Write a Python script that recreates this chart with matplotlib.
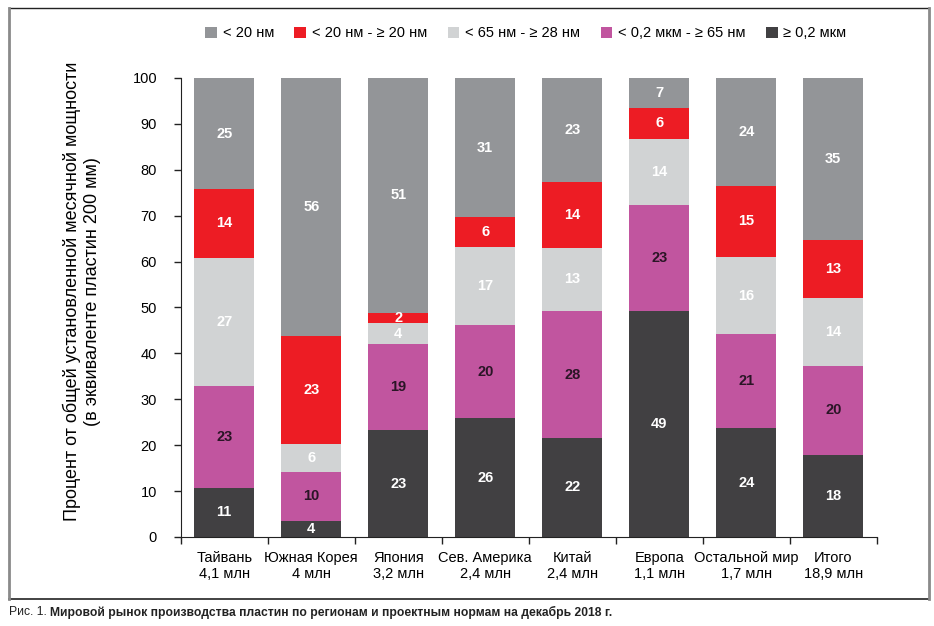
import numpy as np
import matplotlib.pyplot as plt
from matplotlib.lines import Line2D
from matplotlib.patches import Patch

# regions (two-line tick labels)
regions = ['Тайвань\n4,1 млн', 'Южная Корея\n4 млн', 'Япония\n3,2 млн', 'Сев. Америка\n2,4 млн',
           'Китай\n2,4 млн', 'Европа\n1,1 млн', 'Остальной мир\n1,7 млн', 'Итого\n18,9 млн']

series_names = ['≥ 0,2 мкм', '< 0,2 мкм - ≥ 65 нм', '< 65 нм - ≥ 28 нм', '< 20 нм - ≥ 20 нм', '< 20 нм']
colors = ['#414042', '#c1559f', '#d1d3d4', '#ed1c24', '#939598']
label_colors = ['white', '#2a1526', 'white', 'white', 'white']

# segment heights (bottom to top)
h_02um = [10.7, 3.5, 23.3, 25.9, 21.6, 49.2, 23.7, 17.9]
h_65nm = [22.2, 10.7, 18.7, 20.3, 27.6, 23.1, 20.5, 19.4]
h_28nm = [27.9, 6.1, 4.6, 17.0, 13.8, 14.4, 16.8, 14.8]
h_20nm = [15.0, 23.5, 2.2, 6.5, 14.3, 6.8, 15.5, 12.6]
h_lt20 = [24.2, 56.2, 51.2, 30.3, 22.7, 6.5, 23.5, 35.3]

# printed numbers on the segments
l_02um = [11, 4, 23, 26, 22, 49, 24, 18]
l_65nm = [23, 10, 19, 20, 28, 23, 21, 20]
l_28nm = [27, 6, 4, 17, 13, 14, 16, 14]
l_20nm = [14, 23, 2, 6, 14, 6, 15, 13]
l_lt20 = [25, 56, 51, 31, 23, 7, 24, 35]

heights = [h_02um, h_65nm, h_28nm, h_20nm, h_lt20]
labels = [l_02um, l_65nm, l_28nm, l_20nm, l_lt20]

plt.rcParams['font.family'] = ['Liberation Sans', 'DejaVu Sans']

fig = plt.figure(figsize=(9.34, 6.26), dpi=100)
ax = fig.add_axes([0.1935, 0.1422, 0.7452, 0.7332])

x = np.arange(len(regions))
bottom = np.zeros(len(regions))
for hs, ls, c, tc in zip(heights, labels, colors, label_colors):
    hs = np.array(hs)
    ax.bar(x, hs, bottom=bottom, width=0.69, color=c, edgecolor='none')
    for xi, b, h, lab in zip(x, bottom, hs, ls):
        ax.text(xi, b + h / 2, str(lab), ha='center', va='center', color=tc,
                fontsize=10.5, fontweight='bold')
    bottom += hs

ax.set_xlim(-0.5, len(regions) - 0.5)
ax.set_ylim(0, 100)
ax.set_yticks(np.arange(0, 101, 10))
ax.set_xticks(np.arange(-0.5, len(regions), 1))
ax.set_xticklabels([])
ax.set_xticks(x, minor=True)
ax.set_xticklabels(regions, minor=True, fontsize=10.5, linespacing=1.15)
ax.tick_params(axis='x', which='minor', length=0, pad=10)
ax.tick_params(axis='x', which='major', length=5, width=1, color='#222222')
ax.tick_params(axis='y', length=5, width=1, color='#222222', labelsize=10.5, pad=12)
for s in ['top', 'right']:
    ax.spines[s].set_visible(False)
ax.spines['left'].set_color('#222222')
ax.spines['bottom'].set_color('#222222')

ax.set_ylabel('Процент от общей установленной месячной мощности\n(в эквиваленте пластин 200 мм)',
              fontsize=13, linespacing=1.25)
ax.yaxis.set_label_coords(-0.114, 0.535)

# legend
order = [4, 3, 2, 1, 0]
handles = [Patch(facecolor=colors[i], edgecolor='none') for i in order]
fig.legend(handles, [series_names[i] for i in order], loc='center', bbox_to_anchor=(0.563, 0.947),
           ncol=5, frameon=False, fontsize=10.5, handlelength=0.8, handleheight=0.8,
           handletextpad=0.4, columnspacing=1.4)

# frame around chart
fig.add_artist(Line2D([0.0096, 0.9946], [0.9872, 0.9872], color='#222222', lw=1))
fig.add_artist(Line2D([0.0096, 0.9946], [0.0431, 0.0431], color='#222222', lw=1.2))
fig.add_artist(Line2D([0.0096, 0.0096], [0.0431, 0.9872], color='#8a8a8a', lw=2))
fig.add_artist(Line2D([0.9946, 0.9946], [0.0431, 0.9872], color='#8a8a8a', lw=2))

# caption
cap_font = ['Liberation Sans Narrow', 'Liberation Sans', 'DejaVu Sans']
t = fig.text(0.0096, 0.022, 'Рис. 1. ', fontsize=8.7, family=cap_font, color='#222222', va='center')
fig.canvas.draw()
bb = t.get_window_extent()
fig.text(bb.x1 / fig.bbox.width, 0.022,
         'Мировой рынок производства пластин по регионам и проектным нормам на декабрь 2018 г.',
         fontsize=8.7, family=cap_font, fontweight='bold', color='#222222', va='center')

fig.savefig('out.png', dpi=100)
